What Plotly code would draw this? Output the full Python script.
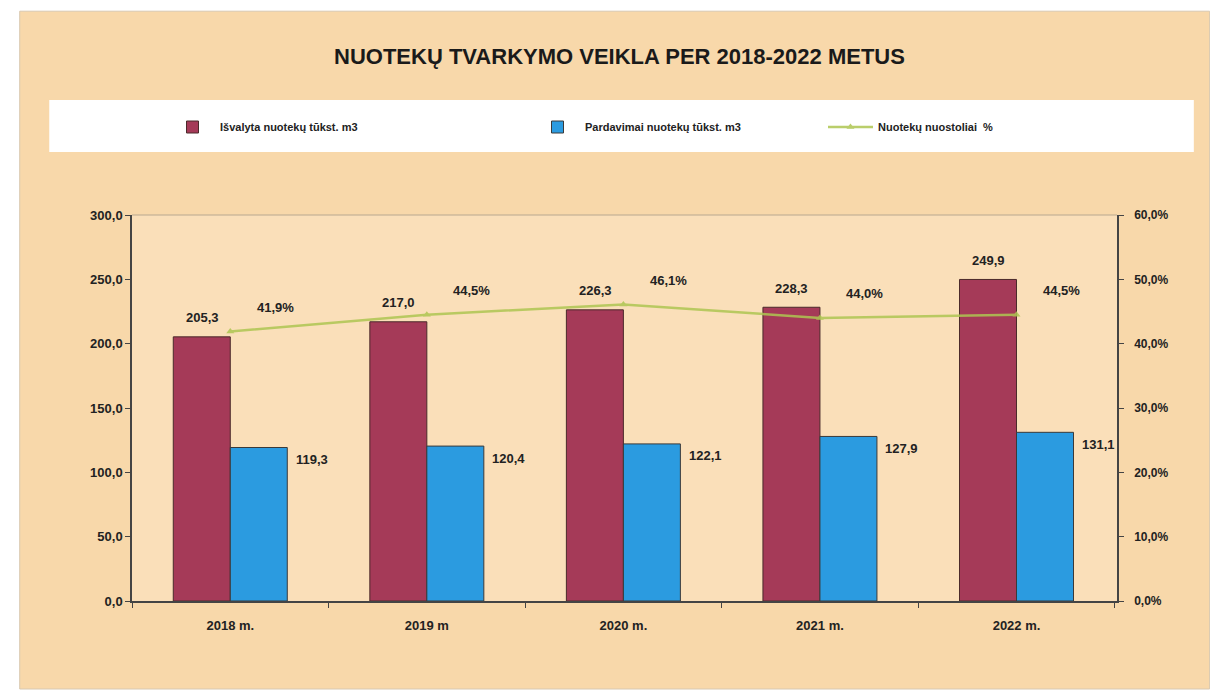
import plotly.graph_objects as go

categories = ["2018 m.", "2019 m", "2020 m.", "2021 m.", "2022 m."]
treated = [205.3, 217.0, 226.3, 228.3, 249.9]
sold = [119.3, 120.4, 122.1, 127.9, 131.1]
loss_pct = [41.9, 44.5, 46.1, 44.0, 44.5]
left_ticks = [0, 50, 100, 150, 200, 250, 300]
right_ticks = [0, 0.1, 0.2, 0.3, 0.4, 0.5, 0.6]

names = ["Išvalyta nuotekų tūkst. m3", "Pardavimai nuotekų tūkst. m3", "Nuotekų nuostoliai  %"]

RED = "#A53A58"
BLUE = "#2B9BE0"
GREEN = "#AEC652"
TXT = "#222222"
FONT = "Liberation Sans"

def fmt(v):
    return f"{v:.1f}".replace(".", ",")

lab_font = dict(family=FONT, size=13, color=TXT, weight="bold")

fig = go.Figure()
fig.add_trace(go.Bar(x=categories, y=treated, name=names[0], legend="legend",
                     marker=dict(color=RED, line=dict(color="#4a2a2a", width=1))))
fig.add_trace(go.Bar(x=categories, y=sold, name=names[1], legend="legend2",
                     marker=dict(color=BLUE, line=dict(color="#3a3a3a", width=1))))
fig.add_trace(go.Scatter(x=categories, y=[p / 100 for p in loss_pct], name=names[2],
                         legend="legend3",
                         yaxis="y2", mode="lines+markers", opacity=0.85,
                         line=dict(color=GREEN, width=2.5),
                         marker=dict(symbol="triangle-up", size=7, color=GREEN)))

ann = []
for c, v in zip(categories, treated):
    ann.append(dict(x=c, y=v, xref="x", yref="y", text=fmt(v), showarrow=False,
                    xshift=-28, yshift=19, font=lab_font))
for c, v in zip(categories, sold):
    ann.append(dict(x=c, y=v, xref="x", yref="y", text=fmt(v), showarrow=False,
                    xshift=82, yshift=-12, font=lab_font))
for c, p in zip(categories, loss_pct):
    ann.append(dict(x=c, y=p / 100, xref="x", yref="y2", text=fmt(p) + "%", showarrow=False,
                    xshift=45, yshift=24, font=lab_font))
ann.append(dict(x=0.495, y=1.41, xref="paper", yref="paper", yanchor="middle",
                text="<b>NUOTEKŲ TVARKYMO VEIKLA PER 2018-2022 METUS</b>",
                showarrow=False, font=dict(family=FONT, size=22, color="#1a1a1a")))

shapes = [
    dict(type="rect", xref="paper", yref="paper", x0=-0.114, x1=1.094, y0=-0.228, y1=1.528,
         fillcolor="#F8D8AA", line=dict(color="#d8c8b0", width=1), layer="below"),
    dict(type="rect", xref="paper", yref="paper", x0=0, x1=1, y0=0, y1=1,
         fillcolor="#FADFB9", line=dict(width=0), layer="below"),
    dict(type="rect", xref="paper", yref="paper", x0=-0.084, x1=1.078, y0=1.163, y1=1.298,
         fillcolor="#FFFFFF", line=dict(width=0), layer="below"),
    dict(type="line", xref="paper", yref="paper", x0=0, x1=1, y0=1, y1=1,
         line=dict(color="#b8a890", width=1)),
]

def leg(xpx):
    return dict(orientation="h", xref="container", yref="container",
                x=xpx / 1218, y=1 - 119 / 700, xanchor="left", yanchor="middle",
                itemwidth=45, bgcolor="rgba(0,0,0,0)",
                font=dict(family=FONT, size=11, color=TXT, weight="bold"))

fig.update_layout(
    width=1218, height=700,
    margin=dict(l=124, r=109, t=207, b=107),
    paper_bgcolor="#FFFFFF", plot_bgcolor="rgba(0,0,0,0)",
    separators=",.",
    barmode="group", bargap=0.42, bargroupgap=0,
    font=dict(family=FONT, size=12, color=TXT),
    showlegend=True,
    legend=leg(157), legend2=leg(522), legend3=leg(815),
    xaxis=dict(type="category", showline=True, linecolor="#444444", linewidth=1.5,
               ticks="outside", tickson="boundaries", ticklen=5, tickcolor="#444444",
               ticklabelstandoff=12, showgrid=False, automargin=False,
               tickfont=dict(family=FONT, size=13, color=TXT, weight="bold")),
    yaxis=dict(range=[0, 300], tickvals=left_ticks, tickformat=".1f",
               showline=True, linecolor="#444444", linewidth=1.5, automargin=False,
               ticks="outside", ticklen=5, tickcolor="#444444", showgrid=False,
               zeroline=False, tickfont=dict(family=FONT, size=13, color=TXT, weight="bold")),
    yaxis2=dict(range=[0, 0.6], tickvals=right_ticks, tickformat=".1%",
                overlaying="y", side="right", showline=True, linecolor="#444444",
                linewidth=1.5, ticks="outside", ticklen=5, tickcolor="#444444",
                showgrid=False, zeroline=False, ticklabelstandoff=8, automargin=False,
                tickfont=dict(family=FONT, size=12, color=TXT, weight="bold")),
    annotations=ann, shapes=shapes,
)

fig.write_html("out.html")
